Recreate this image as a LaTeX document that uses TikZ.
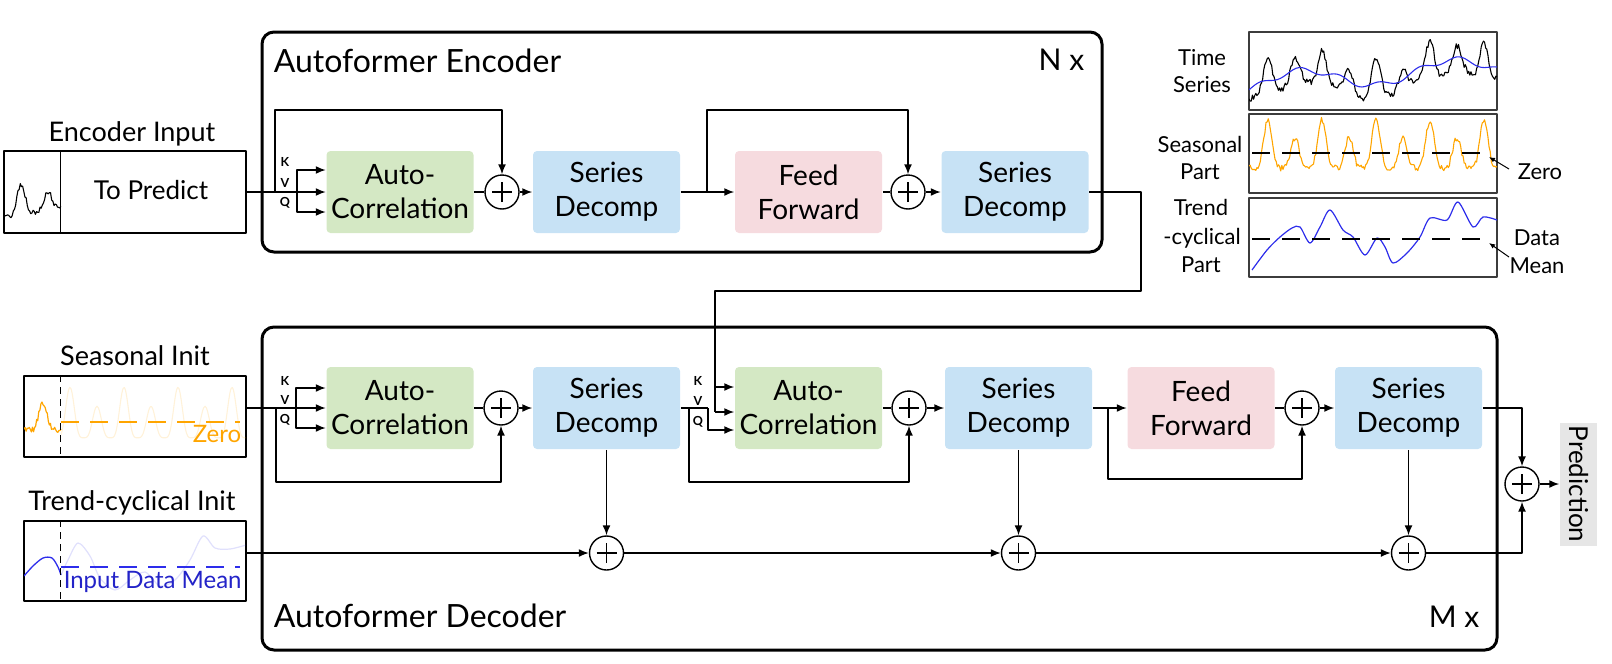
\documentclass[tikz,border=0pt]{standalone}
\usepackage{fontspec}
\setmainfont{Lato}
\usetikzlibrary{arrows.meta,calc}
\definecolor{acgreen}{RGB}{212,232,196}
\definecolor{sdblue}{RGB}{199,226,245}
\definecolor{ffpink}{RGB}{246,219,223}
\definecolor{predgray}{RGB}{230,230,230}
\definecolor{sorange}{RGB}{255,165,0}
\definecolor{tblue}{RGB}{45,45,235}
\definecolor{txtblue}{RGB}{35,35,200}
\definecolor{plotgray}{RGB}{60,60,60}
\newcommand\fBig{\fontsize{28}{34}\selectfont}
\newcommand\fTitle{\fontsize{32}{36}\selectfont}
\newcommand\fIn{\fontsize{27}{30}\selectfont}
\newcommand\fMid{\fontsize{24}{28}\selectfont}
\newcommand\fSm{\fontsize{22}{27}\selectfont}
\newcommand\fKvq{\fontsize{12.5}{12.5}\bfseries\selectfont}
\begin{document}
\pgfmathsetseed{11}
\begin{tikzpicture}[x=1pt,y=-1pt,line width=1.5pt,line join=round,
  >={Latex[length=10pt,width=8pt]},
  declare function={
    cc(\t)=cos(6.6667*(\t-19));
    pp(\t)=max(cc(\t),0)*max(cc(\t),0);
    nn(\t)=max(-cc(\t),0)*max(-cc(\t),0);
    seas(\t)=-15+48*pp(\t)*pp(\t)+30*nn(\t)*nn(\t);
    yT(\t)=52-0.07*\t-10*sin(2.4*(\t-15))-3*sin(9*\t);
  },
  blk/.style={rounded corners=4pt,minimum width=147pt,minimum height=82pt,align=center,font=\fBig,inner sep=0pt},
  acbox/.style={blk,fill=acgreen},
  sdbox/.style={blk,fill=sdblue},
  ffbox/.style={blk,fill=ffpink},
  sumnode/.style={circle,draw,minimum size=34pt,inner sep=0pt,line width=1.4pt,
    path picture={\draw[line width=1.4pt]
      ([xshift=-10pt]path picture bounding box.center)--([xshift=10pt]path picture bounding box.center)
      ([yshift=-10pt]path picture bounding box.center)--([yshift=10pt]path picture bounding box.center);}},
  container/.style={draw,line width=3pt,rounded corners=12pt,inner sep=0pt},
  inbox/.style={draw,line width=1.5pt,inner sep=0pt},
  plotbox/.style={draw=plotgray,line width=1.5pt,inner sep=0pt,minimum width=248pt},
  kvq/.style={font=\fKvq,inner sep=0pt},
  lbl/.style={font=\fIn,inner sep=0pt},
  ttl/.style={font=\fTitle,inner sep=0pt},
  slbl/.style={font=\fSm,inner sep=0pt,anchor=base},
  ptr/.style={->,line width=1pt,>={Latex[length=6pt,width=5pt]}}
]
\useasboundingbox (0,0) rectangle (1612,664);

% containers
\node[container,minimum width=840pt,minimum height=220pt] (enc) at (682,142) {};
\node[container,minimum width=1235pt,minimum height=323pt] (dec) at (879.5,488.5) {};
\node[ttl,anchor=base west] (enctitle) at (273,72) {Autoformer Encoder};
\node[ttl,anchor=base east,font=\fontsize{30}{34}\selectfont] (encN) at (1085,70) {N x};
\node[ttl,anchor=base west] (dectitle) at (273,627) {Autoformer Decoder};
\node[ttl,anchor=base east,font=\fontsize{30}{34}\selectfont] (decM) at (1480,627) {M x};

% encoder input
\node[lbl,anchor=base] (eintitle) at (132,141) {Encoder Input};
\node[inbox,minimum width=242pt,minimum height=82pt] (einbox) at (125,192) {};
\draw ([xshift=57pt]einbox.north west) -- ([xshift=57pt]einbox.south west);
\node[lbl,anchor=base,font=\fontsize{26}{30}\selectfont] (topred) at (151,199) {To Predict};
\begin{scope}
\clip (4,151) rectangle (61,233);
\draw[line width=1.1pt] plot[domain=0:57,samples=50,variable=\t] ({4+\t},{208-0.6*seas(\t+2)-0.15*\t+3*rand});
\end{scope}

% seasonal init
\node[lbl,anchor=base] (sititle) at (135,365) {Seasonal Init};
\node[inbox,minimum width=222pt,minimum height=81pt] (sibox) at (135,416.5) {};
\begin{scope}
\clip (24,376) rectangle (246,457);
\draw[sorange,opacity=0.15,line width=1.1pt] plot[smooth,domain=0:185,samples=150,variable=\t] ({61+\t},{422-1.05*seas(\t+10)});
\draw[sorange,line width=1.2pt] plot[domain=0:37,samples=36,variable=\t] ({24+\t},{422-0.55*seas(\t)+3*rand});
\end{scope}
\draw[dash pattern=on 7pt off 5pt,line width=1.1pt] ([xshift=37pt]sibox.north west) -- ([xshift=37pt]sibox.south west);
\draw[sorange,dash pattern=on 18pt off 11pt,line width=1.5pt] (61,422) -- (240,422);
\node[anchor=base east,font=\fMid,text=sorange,inner sep=0pt] (zerolbl) at (242,442) {Zero};

% trend init
\node[lbl,anchor=base] (tititle) at (132,510) {Trend-cyclical Init};
\node[inbox,minimum width=222pt,minimum height=80pt] (tibox) at (135,561) {};
\begin{scope}
\clip (24,521) rectangle (246,601);
\draw[tblue,opacity=0.15,line width=1.2pt] plot[smooth] coordinates {(61,575) (68,560) (78,543) (90,556) (100,578) (115,590) (130,580) (145,572) (160,586) (175,580) (190,560) (203,536) (215,548) (230,549) (246,545)};
\draw[tblue,line width=1.3pt] plot[smooth] coordinates {(24,576) (33,566) (43,558) (52,558) (58,567) (61,575)};
\end{scope}
\draw[dash pattern=on 7pt off 5pt,line width=1.1pt] ([xshift=37pt]tibox.north west) -- ([xshift=37pt]tibox.south west);
\draw[tblue,dash pattern=on 18pt off 11pt,line width=1.5pt] (61,567) -- (240,567);
\node[anchor=base west,font=\fMid,text=txtblue,inner sep=0pt] (idmlbl) at (63,588) {Input Data Mean};

% encoder blocks
\node[acbox] (ac1) at (400,192) {Auto-\\Correlation};
\node[sumnode] (p1) at (502,192) {};
\node[sdbox] (sd1) at (606.5,192) {Series\\Decomp};
\node[ffbox] (ff1) at (808.5,192) {Feed\\Forward};
\node[sumnode] (p2) at (908,192) {};
\node[sdbox] (sd2) at (1015,192) {Series\\Decomp};

% decoder blocks
\node[acbox] (ac2) at (400,408) {Auto-\\Correlation};
\node[sumnode] (p3) at (501,408) {};
\node[sdbox] (sd3) at (606.5,408) {Series\\Decomp};
\node[acbox] (ac3) at (808.5,408) {Auto-\\Correlation};
\node[sumnode] (p4) at (909,408) {};
\node[sdbox] (sd4) at (1018.5,408) {Series\\Decomp};
\node[ffbox] (ff2) at (1201,408) {Feed\\Forward};
\node[sumnode] (p5) at (1302,408) {};
\node[sdbox] (sd5) at (1408.5,408) {Series\\Decomp};
\node[sumnode] (t1) at (606.5,553) {};
\node[sumnode] (t2) at (1018.5,553) {};
\node[sumnode] (t3) at (1408.5,553) {};
\node[sumnode] (pf) at (1522,484) {};
\node[fill=predgray,minimum width=37pt,minimum height=123pt,inner sep=0pt] (pred) at (1578.5,484) {\rotatebox{-90}{\fontsize{26}{30}\selectfont Prediction}};

% KVQ labels
\node[kvq] (k1) at (285,162) {K};
\node[kvq] (v1) at (285,183) {V};
\node[kvq] (q1) at (285,203) {Q};
\node[kvq] (k2) at (285,381) {K};
\node[kvq] (v2) at (285,400) {V};
\node[kvq] (q2) at (285,420) {Q};
\node[kvq] (k3) at (698,381) {K};
\node[kvq] (v3) at (698,401) {V};
\node[kvq] (q3) at (698,422) {Q};

% encoder connectors
\coordinate (ekv) at (297,192);
\coordinate (eskip) at (275,192);
\draw (einbox.east) -- (ekv);
\draw[->] (ekv) -- (ac1.west);
\draw[->] (ekv) |- ([yshift=22pt]ac1.west);
\draw[->] (ekv) |- ([yshift=-20pt]ac1.west);
\draw[->] (eskip) -- ++(0,-82) -| (p1.north);
\draw (ac1.east) -- (p1.west);
\draw[->] (p1.east) -- (sd1.west);
\coordinate (eskip2) at (707,192);
\draw[->] (sd1.east) -- (ff1.west);
\draw[->] (eskip2) -- ++(0,-82) -| (p2.north);
\draw (ff1.east) -- (p2.west);
\draw[->] (p2.east) -- (sd2.west);

% encoder to decoder
\coordinate (eo1) at (1141,192);
\coordinate (eo2) at (1141,291);
\coordinate (eo3) at (715,291);
\coordinate (dk2) at (715,387);
\coordinate (dv2) at (715,412);
\draw (sd2.east) -- (eo1) -- (eo2) -- (eo3) -- (dv2);
\draw[->] (dk2) -- (ac3.west |- dk2);
\draw[->] (dv2) -- (ac3.west |- dv2);

% decoder connectors
\coordinate (dkv1) at (296,408);
\coordinate (dskip1) at (276,408);
\draw (sibox.east |- dkv1) -- (dkv1);
\draw[->] (dkv1) -- (ac2.west);
\draw[->] (dkv1) |- ([yshift=20pt]ac2.west);
\draw[->] (dkv1) |- ([yshift=-20pt]ac2.west);
\draw[->] (dskip1) -- ++(0,74) -| (p3.south);
\draw (ac2.east) -- (p3.west);
\draw[->] (p3.east) -- (sd3.west);
\coordinate (dq2) at (708,408);
\coordinate (dskip2) at (689,408);
\draw (sd3.east) -- (dq2);
\draw[->] (dq2) |- ([yshift=-22pt]ac3.west);
\draw[->] (dskip2) -- ++(0,74) -| (p4.south);
\draw (ac3.east) -- (p4.west);
\draw[->] (p4.east) -- (sd4.west);
\coordinate (dskip3) at (1108,408);
\draw[->] (sd4.east) -- (ff2.west);
\draw[->] (dskip3) -- ++(0,71) -| (p5.south);
\draw (ff2.east) -- (p5.west);
\draw[->] (p5.east) -- (sd5.west);
\draw[->] (sd5.east) -| (pf.north);

% trend path
\draw[->] (tibox.east |- t1) -- (t1.west);
\draw[->] (sd3.south) -- (t1.north);
\draw[->] (t1.east) -- (t2.west);
\draw[->] (sd4.south) -- (t2.north);
\draw[->] (t2.east) -- (t3.west);
\draw[->] (sd5.south) -- (t3.north);
\draw[->] (t3.east) -| (pf.south);
\draw[->] (pf.east) -- (pred.west);

% right side plots
\node[plotbox,minimum height=78pt] (tsbox) at (1373,71) {};
\node[plotbox,minimum height=79pt] (seasbox) at (1373,153.5) {};
\node[plotbox,minimum height=79pt] (trbox) at (1373,237.5) {};
\begin{scope}
\clip (1249,32) rectangle (1497,110);
\draw[line width=1.1pt] plot[domain=0:248,samples=220,variable=\t] ({1249+\t},{32+yT(\t)-0.75*seas(\t)+3*rand});
\draw[tblue,line width=1.1pt] plot[smooth,domain=0:248,samples=80,variable=\t] ({1249+\t},{32+yT(\t)});
\end{scope}
\begin{scope}
\clip (1249,114) rectangle (1497,193);
\draw[sorange,line width=1.1pt] plot[domain=0:248,samples=220,variable=\t] ({1249+\t},{153-seas(\t)+3*rand});
\end{scope}
\draw[dash pattern=on 18pt off 12pt,line width=1.3pt] (1252,153) -- (1488,153);
\begin{scope}
\clip (1249,198) rectangle (1497,277);
\draw[tblue,line width=1.2pt] plot[smooth] coordinates {(1252,270) (1267,250) (1280,237) (1292,228) (1300,227) (1310,243) (1320,227) (1330,210) (1343,230) (1353,237) (1365,255) (1377,238) (1385,247) (1393,263) (1407,253) (1420,237) (1430,218) (1447,220) (1458,202) (1473,227) (1483,217) (1497,220)};
\end{scope}
\draw[dash pattern=on 18pt off 12pt,line width=1.3pt] (1252,239) -- (1488,239);

\node[slbl] (tl1) at (1202,65) {Time};
\node[slbl] (tl2) at (1202,92) {Series};
\node[slbl] (sl1) at (1200,152) {Seasonal};
\node[slbl] (sl2) at (1200,179) {Part};
\node[slbl] (rl1) at (1201,215) {Trend};
\node[slbl] (rl2) at (1202,244) {-cyclical};
\node[slbl] (rl3) at (1201,272) {Part};
\node[slbl] (zl) at (1540,179) {Zero};
\node[slbl] (dm1) at (1537,245) {Data};
\node[slbl] (dm2) at (1537,273) {Mean};
\coordinate (zt) at (1509,169);
\coordinate (zh) at (1489,157);
\draw[ptr] (zt) -- (zh);
\coordinate (mt) at (1509,257);
\coordinate (mh) at (1489,243);
\draw[ptr] (mt) -- (mh);
\end{tikzpicture}
\end{document}
